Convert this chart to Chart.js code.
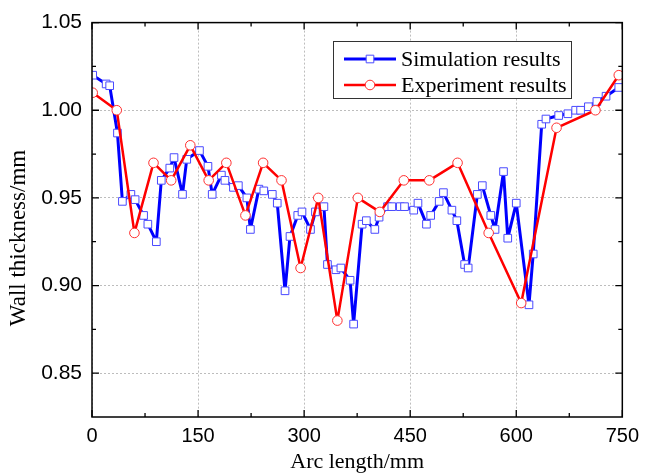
<!DOCTYPE html>
<html>
<head>
<meta charset="utf-8">
<title>Wall thickness along arc length</title>
<script src="https://cdn.jsdelivr.net/npm/chart.js@4/dist/chart.umd.min.js"></script>
<style>
  html, body { margin: 0; padding: 0; background: #fff; }
  #wrap { width: 646px; height: 475px; }
</style>
</head>
<body>
<div id="wrap"><canvas id="chart" width="646" height="475"></canvas></div>
<script>
(function () {
  "use strict";

  // ---- data ----
  const simX = [1, 20, 25, 36, 43, 55, 61, 73, 79, 91, 98, 110, 116, 128, 134, 152, 164, 170, 183, 188,
    200, 207, 219, 224, 236, 243, 255, 262, 273, 280, 291, 297, 309, 316, 328, 333, 345, 352, 365, 370,
    382, 388, 400, 406, 418, 424, 436, 442, 455, 461, 473, 479, 491, 497, 509, 516, 527, 532, 545, 552,
    564, 570, 582, 588, 600, 618, 624, 636, 642, 660, 673, 684, 691, 702, 714, 727, 745];
  const simY = [1.020, 1.015, 1.014, 0.987, 0.948, 0.952, 0.949, 0.940, 0.935, 0.925, 0.960, 0.967, 0.973, 0.952, 0.972, 0.977, 0.968, 0.952, 0.963, 0.960,
    0.956, 0.957, 0.950, 0.932, 0.955, 0.954, 0.952, 0.947, 0.897, 0.928, 0.940, 0.942, 0.932, 0.942, 0.945, 0.912, 0.909, 0.910, 0.903, 0.878,
    0.935, 0.937, 0.932, 0.939, 0.945, 0.945, 0.945, 0.945, 0.943, 0.947, 0.935, 0.940, 0.948, 0.953, 0.943, 0.937, 0.912, 0.910, 0.952, 0.957,
    0.940, 0.932, 0.965, 0.927, 0.947, 0.889, 0.918, 0.992, 0.995, 0.997, 0.998, 1.000, 1.000, 1.002, 1.005, 1.008, 1.013];

  const expX = [1, 35, 60, 87, 112, 139, 165, 190, 217, 242, 268, 295, 320, 347, 376, 407, 441, 477, 517, 561, 607, 657, 712, 745];
  const expY = [1.010, 1.000, 0.930, 0.970, 0.960, 0.980, 0.960, 0.970, 0.940, 0.970, 0.960, 0.910, 0.950, 0.880, 0.950, 0.942,
    0.960, 0.960, 0.970, 0.930, 0.890, 0.990, 1.000, 1.020];

  const xTicks = [0, 150, 300, 450, 600, 750];
  const xMinor = [75, 225, 375, 525, 675];
  const yTicks = [0.85, 0.90, 0.95, 1.00, 1.05];
  const yMinor = [0.875, 0.925, 0.975, 1.025];

  const seriesNames = ["Simulation results", "Experiment results"];
  const xTitle = "Arc length/mm";
  const yTitle = "Wall thickness/mm";

  const SANS = "'Liberation Sans', Arial, sans-serif";
  const SERIF = "'Liberation Serif', 'Times New Roman', serif";

  const toPoints = (xs, ys) => xs.map((x, i) => ({ x, y: ys[i] }));

  // frame, inward ticks (mirrored on top/right), axis titles and boxed legend
  const framePlugin = {
    id: "originFrame",
    afterDraw(chart) {
      const { ctx, chartArea: a, scales } = chart;
      const xs = scales.x, ys = scales.y;
      ctx.save();

      ctx.strokeStyle = "#000";
      ctx.lineWidth = 1.5;
      ctx.strokeRect(a.left, a.top, a.right - a.left, a.bottom - a.top);

      ctx.lineWidth = 1.3;
      ctx.beginPath();
      const tickX = (v, len) => {
        const px = xs.getPixelForValue(v);
        ctx.moveTo(px, a.bottom); ctx.lineTo(px, a.bottom - len);
        ctx.moveTo(px, a.top);    ctx.lineTo(px, a.top + len);
      };
      const tickY = (v, len) => {
        const py = ys.getPixelForValue(v);
        ctx.moveTo(a.left, py);  ctx.lineTo(a.left + len, py);
        ctx.moveTo(a.right, py); ctx.lineTo(a.right - len, py);
      };
      xTicks.forEach(v => tickX(v, 7));
      xMinor.forEach(v => tickX(v, 4));
      yTicks.forEach(v => tickY(v, 7));
      yMinor.forEach(v => tickY(v, 4));
      ctx.stroke();

      // axis titles
      ctx.fillStyle = "#000";
      ctx.textAlign = "center";
      ctx.textBaseline = "middle";
      ctx.font = "22px " + SERIF;
      ctx.fillText(xTitle, (a.left + a.right) / 2, 462);
      ctx.save();
      ctx.translate(19, 238);
      ctx.rotate(-Math.PI / 2);
      ctx.font = "23px " + SERIF;
      ctx.fillText(yTitle, 0, 0);
      ctx.restore();

      // legend box
      const box = { x: 333.5, y: 41.5, w: 238, h: 57 };
      ctx.fillStyle = "#fff";
      ctx.fillRect(box.x, box.y, box.w, box.h);
      ctx.strokeStyle = "#333";
      ctx.lineWidth = 1;
      ctx.strokeRect(box.x, box.y, box.w, box.h);

      const rows = [59, 85];
      chart.data.datasets.forEach((ds, i) => {
        const y = rows[i];
        ctx.strokeStyle = ds.borderColor;
        ctx.lineWidth = ds.borderWidth;
        ctx.beginPath();
        ctx.moveTo(344, y); ctx.lineTo(396, y);
        ctx.stroke();

        ctx.fillStyle = ds.pointBackgroundColor;
        ctx.strokeStyle = ds.pointBorderColor;
        ctx.lineWidth = ds.pointBorderWidth;
        ctx.beginPath();
        if (ds.pointStyle === "rect") {
          const s = Math.SQRT1_2 * ds.pointRadius;
          ctx.rect(370 - s, y - s, 2 * s, 2 * s);
        } else {
          ctx.arc(370, y, ds.pointRadius, 0, Math.PI * 2);
        }
        ctx.fill();
        ctx.stroke();

        ctx.fillStyle = "#000";
        ctx.textAlign = "left";
        ctx.textBaseline = "middle";
        ctx.font = "22px " + SERIF;
        ctx.fillText(seriesNames[i], 401, y + 1);
      });

      ctx.restore();
    }
  };

  new Chart(document.getElementById("chart"), {
    type: "line",
    data: {
      datasets: [
        {
          label: seriesNames[0],
          data: toPoints(simX, simY),
          borderColor: "#0000ff",
          borderWidth: 3,
          borderJoinStyle: "round",
          pointStyle: "rect",
          pointRadius: 5.4,
          pointBorderWidth: 1,
          pointBorderColor: "#4a4aff",
          pointBackgroundColor: "#ffffff",
          tension: 0,
          order: 1
        },
        {
          label: seriesNames[1],
          data: toPoints(expX, expY),
          borderColor: "#ff0000",
          borderWidth: 2.5,
          borderJoinStyle: "round",
          pointStyle: "circle",
          pointRadius: 4.8,
          pointBorderWidth: 1,
          pointBorderColor: "#ff3030",
          pointBackgroundColor: "#ffffff",
          tension: 0,
          order: 0
        }
      ]
    },
    options: {
      responsive: false,
      animation: false,
      devicePixelRatio: 1,
      layout: { padding: { left: 0, right: 21, top: 21, bottom: 0 } },
      plugins: {
        legend: { display: false },
        tooltip: { enabled: false },
        title: { display: false }
      },
      scales: {
        x: {
          type: "linear",
          min: 0,
          max: 750,
          afterBuildTicks: scale => { scale.ticks = xTicks.map(v => ({ value: v })); },
          afterFit: scale => { scale.height = 58; },
          ticks: {
            color: "#000",
            font: { family: SANS, size: 20 },
            padding: 7,
            maxRotation: 0
          },
          grid: { color: "#bdbdbd", lineWidth: 1, drawTicks: false },
          border: { display: false, dash: [2, 2] }
        },
        y: {
          type: "linear",
          min: 0.825,
          max: 1.05,
          afterBuildTicks: scale => { scale.ticks = yTicks.map(v => ({ value: v })); },
          afterFit: scale => { scale.width = 92; },
          ticks: {
            color: "#000",
            font: { family: SANS, size: 21 },
            padding: 10,
            callback: v => Number(v).toFixed(2)
          },
          grid: { color: "#bdbdbd", lineWidth: 1, drawTicks: false },
          border: { display: false, dash: [2, 2] }
        }
      }
    },
    plugins: [framePlugin]
  });
})();
</script>
</body>
</html>
